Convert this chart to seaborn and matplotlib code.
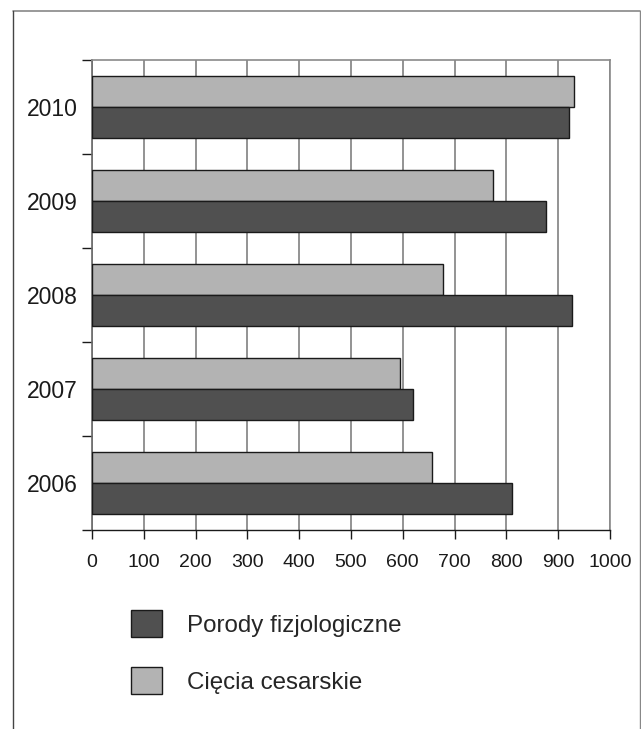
import matplotlib
matplotlib.use("Agg")
import matplotlib.pyplot as plt
from matplotlib.patches import Patch
from matplotlib.lines import Line2D
import seaborn as sns
import pandas as pd

years = ["2010", "2009", "2008", "2007", "2006"]
porody = [920, 876, 927, 620, 810]
ciecia = [930, 775, 678, 595, 657]
series_names = ["Porody fizjologiczne", "Cięcia cesarskie"]
x_ticks = [0, 100, 200, 300, 400, 500, 600, 700, 800, 900, 1000]

df = pd.DataFrame({
    "year": years * 2,
    "value": porody + ciecia,
    "series": [series_names[0]] * len(years) + [series_names[1]] * len(years),
})

sns.set_theme(style="white")
plt.rcParams["font.family"] = ["Liberation Sans", "DejaVu Sans"]

colors = {series_names[0]: "#505050", series_names[1]: "#b3b3b3"}

fig = plt.figure(figsize=(6.41, 7.29), dpi=100)
ax = fig.add_axes([92 / 641, 1 - 530 / 729, (610 - 92) / 641, (530 - 60) / 729])

sns.barplot(data=df, x="value", y="year", hue="series", order=years,
            hue_order=[series_names[1], series_names[0]], palette=colors,
            orient="h", width=0.667, edgecolor="#1a1a1a", linewidth=1.0,
            legend=False, ax=ax, zorder=3)

ax.set_xlim(0, 1000)
ax.set_ylim(4.5, -0.5)
ax.set_xticks(x_ticks)
ax.set_xticklabels([str(v) for v in x_ticks], fontsize=14)
ax.set_yticks(range(len(years)))
ax.set_yticklabels(years, fontsize=16.5)
ax.set_yticks([i - 0.5 for i in range(len(years) + 1)], minor=True)
ax.tick_params(axis="y", which="major", length=0, pad=10, colors="#1a1a1a")
ax.tick_params(axis="y", which="minor", left=True, length=7.5, width=1.0, color="#1a1a1a")
ax.tick_params(axis="x", which="major", bottom=True, length=6.5, width=1.0,
               color="#1a1a1a", pad=11, labelcolor="#1a1a1a")
ax.set_xlabel("")
ax.set_ylabel("")

ax.grid(axis="x", color="#808080", linewidth=1.2, zorder=0)
ax.grid(axis="y", visible=False)
ax.set_axisbelow(True)

for side in ["top", "right"]:
    ax.spines[side].set_color("#8a8a8a")
    ax.spines[side].set_linewidth(1.2)
ax.spines["left"].set_color("#6a6a6a")
ax.spines["left"].set_linewidth(1.2)
ax.spines["bottom"].set_color("#1a1a1a")
ax.spines["bottom"].set_linewidth(1.0)

handles = [Patch(facecolor=colors[s], edgecolor="#1a1a1a", linewidth=1.0) for s in series_names]
fig.legend(handles, series_names, loc="upper left",
           bbox_to_anchor=(131 / 641, 1 - 610 / 729), frameon=False,
           fontsize=17.4, handlelength=1.3, handleheight=1.35,
           handletextpad=1.0, labelspacing=1.25, borderpad=0, borderaxespad=0)

# outer frame
fig.add_artist(Line2D([13 / 641, 640 / 641], [1 - 11 / 729, 1 - 11 / 729],
                      transform=fig.transFigure, color="#888888", linewidth=1.2))
fig.add_artist(Line2D([13 / 641, 13 / 641], [0, 1 - 11 / 729],
                      transform=fig.transFigure, color="#444444", linewidth=1.0))
fig.add_artist(Line2D([640 / 641, 640 / 641], [0, 1 - 11 / 729],
                      transform=fig.transFigure, color="#888888", linewidth=1.0))

fig.savefig("out.png", dpi=100)
